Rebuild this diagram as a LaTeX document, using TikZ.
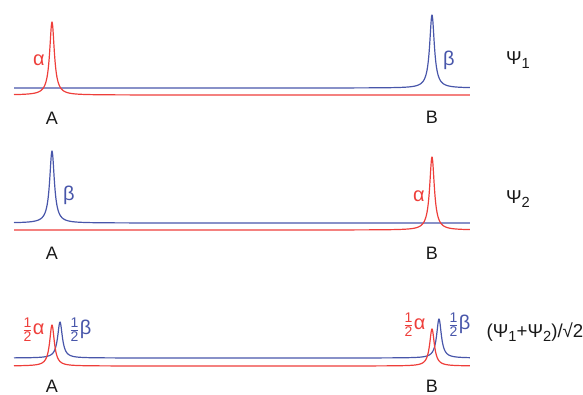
\documentclass[tikz,border=0pt]{standalone}
\usepackage{fontspec}
\setmainfont{Liberation Sans}
\definecolor{cred}{RGB}{238,62,58}
\definecolor{cblue}{RGB}{72,86,170}
\definecolor{ctext}{RGB}{25,25,25}
\newcommand{\halfx}{$\vcenter{\hbox{\fontsize{10.5}{10.5}\selectfont\vbox{\halign{\hfil##\hfil\cr 1\cr\noalign{\kern1.2pt\hrule height 0.5pt\kern1.2pt}2\cr}}}}$\kern1pt}
\newcommand{\psisub}[1]{Ψ\raisebox{-0.45ex}{\fontsize{11}{11}\selectfont #1}}
\begin{document}
\begin{tikzpicture}[x=7.5pt,y=-7.5pt,
  declare function={lor(\t,\c,\h)=\h*0.08/((\t-\c)^2+0.08);},
  curve/.style={line width=0.9pt, line join=round},
  lbl/.style={font=\fontsize{13.5}{15}\selectfont, text=ctext, inner sep=0pt},
  glbl/.style={font=\fontsize{15}{16}\selectfont, inner sep=0pt},
  psil/.style={font=\fontsize{14}{15}\selectfont, text=ctext, inner sep=0pt}
]
\useasboundingbox (0,0) rectangle (58.3,39.5);
% panel 1
\draw[curve,cblue] plot[domain=1.4:47,samples=1501] (\x,{8.8-lor(\x,43.2,7.3)});
\draw[curve,cred] plot[domain=1.4:47,samples=1501] (\x,{9.5-lor(\x,5.2,7.3)});
\node[glbl,text=cred] (a1) at (3.9,6.0) {α};
\node[glbl,text=cblue] (b1) at (44.9,6.0) {β};
\node[lbl] (A1) at (5.2,11.8) {A};
\node[lbl] (B1) at (43.2,11.7) {B};
\node[psil] (P1) at (51.8,6.0) {\psisub{1}};
% panel 2
\draw[curve,cblue] plot[domain=1.4:47,samples=1501] (\x,{22.3-lor(\x,5.2,7.2)});
\draw[curve,cred] plot[domain=1.4:47,samples=1501] (\x,{23.0-lor(\x,43.2,7.3)});
\node[glbl,text=cblue] (b2) at (6.9,19.5) {β};
\node[glbl,text=cred] (a2) at (41.9,19.6) {α};
\node[lbl] (A2) at (5.2,25.3) {A};
\node[lbl] (B2) at (43.2,25.3) {B};
\node[psil] (P2) at (51.8,19.9) {\psisub{2}};
% panel 3
\draw[curve,cblue] plot[domain=1.4:47,samples=1501] (\x,{35.8-lor(\x,6.0,3.6)-lor(\x,43.9,3.9)});
\draw[curve,cred] plot[domain=1.4:47,samples=1501] (\x,{36.6-lor(\x,5.2,4.1)-lor(\x,43.2,3.7)});
\node[glbl,text=cred] (a3) at (3.4,33.0) {\halfx α};
\node[glbl,text=cblue] (b3) at (8.1,33.0) {\halfx β};
\node[glbl,text=cred] (a4) at (41.5,32.5) {\halfx α};
\node[glbl,text=cblue] (b4) at (46.0,32.5) {\halfx β};
\node[lbl] (A3) at (5.2,38.6) {A};
\node[lbl] (B3) at (43.2,38.6) {B};
\node[psil] (P3) at (53.5,33.2) {(\psisub{1}+\psisub{2})/√2};
\end{tikzpicture}
\end{document}
